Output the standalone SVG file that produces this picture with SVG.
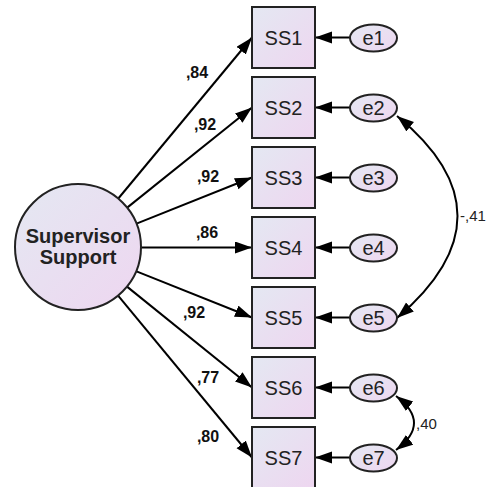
<svg xmlns="http://www.w3.org/2000/svg" width="487" height="487" viewBox="0 0 487 487">
<defs>
<linearGradient id="g" x1="0" y1="0" x2="1" y2="1">
<stop offset="0" stop-color="#e4e8f2"/>
<stop offset="1" stop-color="#eed6f0"/>
</linearGradient>
<marker id="ah" markerUnits="userSpaceOnUse" markerWidth="18" markerHeight="13" refX="17" refY="6" orient="auto-start-reverse">
<path d="M0,0 L17,6 L0,12 z" fill="#000"/>
</marker>
<style>
.box{fill:url(#g);stroke:#222;stroke-width:2}
.lab{font-family:"Liberation Sans",Arial,sans-serif;font-size:20px;fill:#222;text-anchor:middle}
.ld{font-family:"Liberation Sans",Arial,sans-serif;font-size:16px;font-weight:bold;fill:#111;text-anchor:middle}
.cv{font-family:"Liberation Sans",Arial,sans-serif;font-size:15px;fill:#222}
.ln{stroke:#000;stroke-width:2;fill:none;marker-end:url(#ah)}
.cov{stroke:#000;stroke-width:2;fill:none;marker-end:url(#ah);marker-start:url(#ah)}
</style>
</defs>
<rect width="487" height="487" fill="#fff"/>
<g id="connectors">
<line class="ln" x1="118.3" y1="198.5" x2="252" y2="37.5"/>
<line class="ln" x1="127.2" y1="207.6" x2="252" y2="107.5"/>
<line class="ln" x1="136.5" y1="223.6" x2="252" y2="177.5"/>
<line class="ln" x1="141" y1="247.5" x2="252" y2="247.5"/>
<line class="ln" x1="136.5" y1="271.4" x2="252" y2="317.5"/>
<line class="ln" x1="127" y1="286.6" x2="252" y2="387.5"/>
<line class="ln" x1="118.1" y1="295.6" x2="252" y2="457.5"/>
<line class="ln" x1="350" y1="37.5" x2="315" y2="37.5"/>
<line class="ln" x1="350" y1="107.5" x2="315" y2="107.5"/>
<line class="ln" x1="350" y1="177.5" x2="315" y2="177.5"/>
<line class="ln" x1="350" y1="247.5" x2="315" y2="247.5"/>
<line class="ln" x1="350" y1="317.5" x2="315" y2="317.5"/>
<line class="ln" x1="350" y1="387.5" x2="315" y2="387.5"/>
<line class="ln" x1="350" y1="457.5" x2="315" y2="457.5"/>
<path class="cov" d="M397,116 Q518,215 397,318"/>
<path class="cov" d="M396,396 Q432,423 396,450"/>
<text class="ld" x="197" y="78">,84</text>
<text class="ld" x="205" y="130">,92</text>
<text class="ld" x="208" y="182">,92</text>
<text class="ld" x="207" y="238">,86</text>
<text class="ld" x="194" y="318">,92</text>
<text class="ld" x="208" y="383">,77</text>
<text class="ld" x="208" y="442">,80</text>
<text class="cv" x="460" y="221">-,41</text>
<text class="cv" x="416" y="429">,40</text>
</g>
<g id="SupervisorSupport">
<circle cx="78" cy="247" r="63" fill="url(#g)" stroke="#222" stroke-width="2"/>
<text class="lab" x="78" y="243" font-weight="bold" font-size="18">Supervisor</text>
<text class="lab" x="78" y="264" font-weight="bold" font-size="18">Support</text>
</g>
<g id="SS1"><rect class="box" x="252" y="7" width="63" height="61"/><text class="lab" x="283.5" y="45">SS1</text></g>
<g id="SS2"><rect class="box" x="252" y="77" width="63" height="61"/><text class="lab" x="283.5" y="115">SS2</text></g>
<g id="SS3"><rect class="box" x="252" y="147" width="63" height="61"/><text class="lab" x="283.5" y="185">SS3</text></g>
<g id="SS4"><rect class="box" x="252" y="217" width="63" height="61"/><text class="lab" x="283.5" y="255">SS4</text></g>
<g id="SS5"><rect class="box" x="252" y="287" width="63" height="61"/><text class="lab" x="283.5" y="325">SS5</text></g>
<g id="SS6"><rect class="box" x="252" y="357" width="63" height="61"/><text class="lab" x="283.5" y="395">SS6</text></g>
<g id="SS7"><rect class="box" x="252" y="427" width="63" height="61"/><text class="lab" x="283.5" y="465">SS7</text></g>
<g id="e1"><ellipse class="box" cx="373.5" cy="38" rx="23.5" ry="13.5"/><text class="lab" x="373.5" y="45">e1</text></g>
<g id="e2"><ellipse class="box" cx="373.5" cy="108" rx="23.5" ry="13.5"/><text class="lab" x="373.5" y="115">e2</text></g>
<g id="e3"><ellipse class="box" cx="373.5" cy="178" rx="23.5" ry="13.5"/><text class="lab" x="373.5" y="185">e3</text></g>
<g id="e4"><ellipse class="box" cx="373.5" cy="248" rx="23.5" ry="13.5"/><text class="lab" x="373.5" y="255">e4</text></g>
<g id="e5"><ellipse class="box" cx="373.5" cy="318" rx="23.5" ry="13.5"/><text class="lab" x="373.5" y="325">e5</text></g>
<g id="e6"><ellipse class="box" cx="373.5" cy="388" rx="23.5" ry="13.5"/><text class="lab" x="373.5" y="395">e6</text></g>
<g id="e7"><ellipse class="box" cx="373.5" cy="458" rx="23.5" ry="13.5"/><text class="lab" x="373.5" y="465">e7</text></g>
</svg>
